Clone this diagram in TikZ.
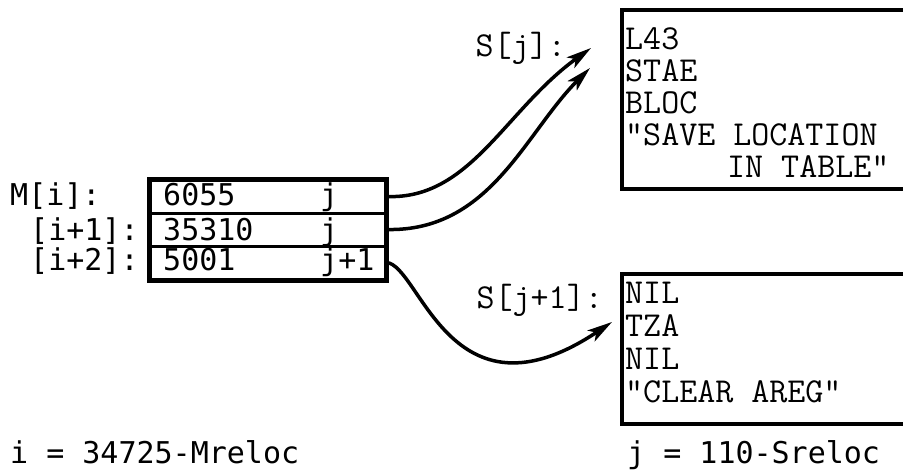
\documentclass[tikz,border=0pt]{standalone}
\usepackage{fontspec}
\newfontfamily\gothfont{DejaVu Sans Mono}
\usetikzlibrary{arrows.meta,fit}
\begin{document}
\begin{tikzpicture}[x=1pt,y=-1pt,
  cour/.style={font=\ttfamily\fontsize{35}{32}\selectfont, inner sep=0pt},
  goth/.style={font=\gothfont\fontsize{30}{30}\selectfont, inner sep=0pt},
  cell/.style={draw, line width=3pt, minimum width=235pt, minimum height=33pt, inner sep=0pt},
  frame/.style={draw, line width=4pt, inner sep=0pt},
  link/.style={line width=3.5pt, -{Stealth[length=25pt,width=13pt,inset=6pt]}}]
\useasboundingbox (0,0) rectangle (903,472);
\clip (0,0) rectangle (903,472);
% memory cells
\node[cell] (r1) at (267.5,196.5) {};
\node[cell] (r2) at (267.5,229.5) {};
\node[cell] (r3) at (267.5,262.5) {};
\node[fit=(r1)(r3), inner sep=0pt, draw, line width=4pt] (mem) {};
\node[goth, anchor=base west] (v1) at (163,205) {6055};
\node[goth, anchor=base west] (v2) at (163,240) {35310};
\node[goth, anchor=base west] (v3) at (163,270) {5001};
\node[goth, anchor=base west] (p1) at (320,205) {j};
\node[goth, anchor=base west] (p2) at (320,240) {j};
\node[goth, anchor=base west] (p3) at (320,270) {j+1};
\node[goth, anchor=base west] (m1) at (10,205) {M[i]:};
\node[goth, anchor=base west] (m2) at (30,240) {[i+1]:};
\node[goth, anchor=base west] (m3) at (30,270) {[i+2]:};
% S boxes
\node[frame, anchor=north west, minimum width=320pt, minimum height=179pt] (sj) at (620,8) {};
\node[frame, anchor=north west, minimum width=320pt, minimum height=150pt] (sj1) at (620,272) {};
\node[cour, anchor=base east] (ls1) at (566,56) {S[j]:};
\node[cour, anchor=base east] (ls2) at (603,308) {S[j+1]:};
\node[cour, anchor=north west, align=left] (code1) at (625,27)
  {L43\\STAE\\BLOC\\"SAVE LOCATION\\\hspace*{102pt}IN TABLE"};
\node[cour, anchor=north west, align=left, font=\ttfamily\fontsize{35}{33}\selectfont] (code2) at (625,282)
  {NIL\\TZA\\NIL\\"CLEAR AREG"};
% bottom notes
\node[goth, anchor=base west] (ni) at (10,463) {i = 34725-Mreloc};
\node[goth, anchor=base west] (nj) at (627,463) {j = 110-Sreloc};
% connectors
\coordinate (t1) at (591,48);
\coordinate (t2) at (590,68);
\coordinate (t3) at (612,322);
\draw[link] (r1.east) .. controls (470,200) and (505,110) .. (t1);
\draw[link] (r2.east) .. controls (490,232) and (525,133) .. (t2);
\draw[link] (r3.east) .. controls (420,265) and (450,430) .. (t3);
\end{tikzpicture}
\end{document}
